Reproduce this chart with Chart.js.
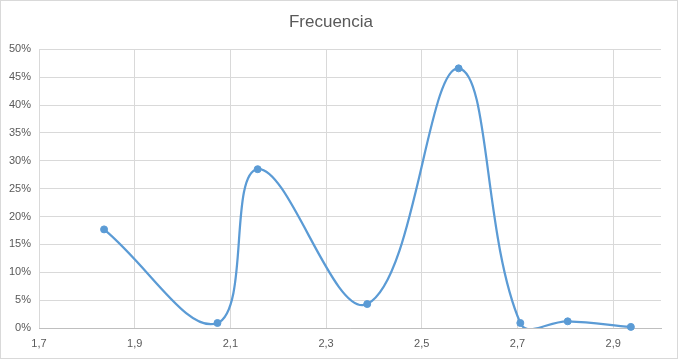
<!DOCTYPE html>
<html>
<head>
<meta charset="utf-8">
<script src="https://cdn.jsdelivr.net/npm/chart.js@4.4.1/dist/chart.umd.min.js"></script>
<style>
  html, body { margin: 0; padding: 0; background: #ffffff; }
  #wrap { position: relative; width: 678px; height: 359px; box-sizing: border-box; border: 1px solid #d9d9d9; }
  canvas { display: block; }
</style>
</head>
<body>
<div id="wrap"><canvas id="c" width="676" height="357"></canvas></div>
<script>
// Data
const titleText = 'Frecuencia';
const xValues = [1.836, 2.073, 2.157, 2.386, 2.577, 2.706, 2.805, 2.937];
const frecuencia = [0.177, 0.009, 0.285, 0.043, 0.466, 0.009, 0.012, 0.002];
const xTickValues = [1.7, 1.9, 2.1, 2.3, 2.5, 2.7, 2.9];
const yTickValues = [0, 0.05, 0.10, 0.15, 0.20, 0.25, 0.30, 0.35, 0.40, 0.45, 0.50];

const points = xValues.map((x, i) => ({ x: x, y: frecuencia[i] }));
const FONT = "'Liberation Sans', Arial, sans-serif";
const BLUE = '#5b9bd5';

new Chart(document.getElementById('c'), {
  type: 'scatter',
  data: {
    datasets: [
      {
        label: titleText,
        data: points,
        showLine: true,
        borderColor: BLUE,
        borderWidth: 2.25,
        pointRadius: 0,
        pointHoverRadius: 0,
        tension: 0.4,
        fill: false
      },
      {
        label: titleText + ' puntos',
        data: points,
        showLine: false,
        pointRadius: 3.5,
        pointBackgroundColor: BLUE,
        pointBorderColor: BLUE,
        pointBorderWidth: 1,
        clip: false
      }
    ]
  },
  options: {
    responsive: false,
    animation: false,
    events: [],
    elements: { line: { capBezierPoints: false } },
    layout: { padding: { left: 0, right: 16, top: 0, bottom: 0 } },
    plugins: {
      legend: { display: false },
      tooltip: { enabled: false },
      title: {
        display: true,
        text: titleText,
        color: '#595959',
        font: { family: FONT, size: 17, weight: 'normal', lineHeight: 1.2 },
        padding: { top: 11, bottom: 17 }
      }
    },
    scales: {
      x: {
        type: 'linear',
        min: 1.7,
        max: 3.0,
        afterBuildTicks: (scale) => { scale.ticks = xTickValues.map(v => ({ value: v })); },
        afterFit: (scale) => { scale.height = 30; },
        ticks: {
          color: '#595959',
          font: { family: FONT, size: 11 },
          padding: 9,
          maxRotation: 0,
          autoSkip: false,
          callback: (v) => Number(v).toFixed(1).replace('.', ',')
        },
        grid: { color: '#d9d9d9', lineWidth: 1, drawTicks: false },
        border: { display: true, color: '#bfbfbf', width: 1 }
      },
      y: {
        type: 'linear',
        min: 0,
        max: 0.5,
        afterBuildTicks: (scale) => { scale.ticks = yTickValues.map(v => ({ value: v })); },
        afterFit: (scale) => { scale.width = 38; },
        ticks: {
          color: '#595959',
          font: { family: FONT, size: 11 },
          padding: 8,
          autoSkip: false,
          callback: (v) => Math.round(v * 100) + '%'
        },
        grid: { color: '#d9d9d9', lineWidth: 1, drawTicks: false },
        border: { display: false }
      }
    }
  }
});
</script>
</body>
</html>
